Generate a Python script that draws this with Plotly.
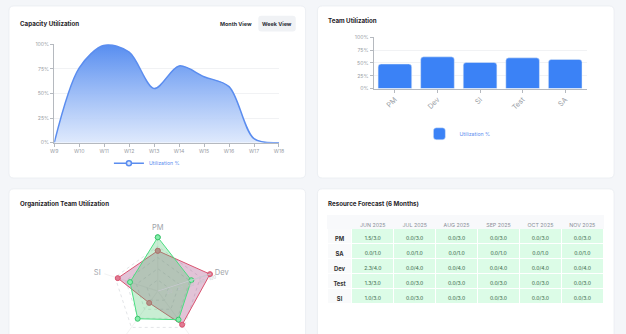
import plotly.graph_objects as go

# ---------------- data ----------------
weeks = ["W9", "W10", "W11", "W12", "W13", "W14", "W15", "W16", "W17", "W18"]
capacity_util = [0, 76, 99, 92, 55, 78, 67, 57, 4, 0]

bar_teams = ["PM", "Dev", "SI", "Test", "SA"]
bar_util = [48, 62, 51, 60, 57]

radar_axes = ["PM", "Dev", "Test", "SA", "SI"]
radar_green = [96, 63, 63, 61, 52]
radar_red = [72, 98, 74, 26, 75]

months = ["JUN 2025", "JUL 2025", "AUG 2025", "SEP 2025", "OCT 2025", "NOV 2025"]
roles = ["PM", "SA", "Dev", "Test", "SI"]
role_capacity = [3.0, 1.0, 4.0, 3.0, 3.0]
pm_alloc = [1.5, 0.0, 0.0, 0.0, 0.0, 0.0]
sa_alloc = [0.0, 0.0, 0.0, 0.0, 0.0, 0.0]
dev_alloc = [2.3, 0.0, 0.0, 0.0, 0.0, 0.0]
test_alloc = [1.3, 0.0, 0.0, 0.0, 0.0, 0.0]
si_alloc = [1.0, 0.0, 0.0, 0.0, 0.0, 0.0]

pct_ticks = [0, 25, 50, 75, 100]
pct_labels = [f"{v}%" for v in pct_ticks]

# ---------------- layout helpers ----------------
W, H = 626, 360
FONT = "Inter, Open Sans, sans-serif"


def fx(px):
    return px / W


def fy(py):
    return 1 - py / H


def rounded_rect(x0, y0, x1, y1, r):
    rx, ry = r / W, r / H
    X0, X1 = fx(x0), fx(x1)
    Y0, Y1 = fy(y0), fy(y1)  # Y0 top, Y1 bottom
    return (f"M{X0+rx},{Y0} L{X1-rx},{Y0} Q{X1},{Y0} {X1},{Y0-ry} "
            f"L{X1},{Y1+ry} Q{X1},{Y1} {X1-rx},{Y1} L{X0+rx},{Y1} "
            f"Q{X0},{Y1} {X0},{Y1+ry} L{X0},{Y0-ry} Q{X0},{Y0} {X0+rx},{Y0} Z")


fig = go.Figure()

# ---------------- line chart ----------------
fig.add_trace(go.Scatter(
    x=weeks, y=capacity_util, mode="lines", line=dict(color="#5b8def", width=1.5, shape="spline", smoothing=0.9),
    fill="tozeroy",
    fillgradient=dict(type="vertical", colorscale=[[0, "rgba(219,231,252,0.9)"], [1, "rgba(88,142,240,1)"]]),
    showlegend=False, xaxis="x", yaxis="y", hoverinfo="skip"))
fig.add_trace(go.Scatter(
    x=[None], y=[None], mode="lines+markers", name="Utilization %",
    line=dict(color="#5b8def", width=1.5),
    marker=dict(symbol="circle", size=5, color="#dbe7fc", line=dict(color="#5b8def", width=1.5)),
    legend="legend", xaxis="x", yaxis="y"))

# ---------------- bar chart ----------------
fig.add_trace(go.Bar(
    x=bar_teams, y=bar_util, name="Utilization %", marker=dict(color="#3b82f6", cornerradius=3),
    xaxis="x2", yaxis="y2", legend="legend2", hoverinfo="skip"))

# ---------------- radar ----------------
fig.add_trace(go.Scatterpolar(
    r=radar_red + radar_red[:1], theta=radar_axes + radar_axes[:1], fill="toself",
    fillcolor="rgba(150,40,110,0.28)", line=dict(color="#d9536f", width=1),
    marker=dict(size=5, color="#e07a92", line=dict(color="#d9536f", width=1)),
    mode="lines+markers", showlegend=False, subplot="polar"))
fig.add_trace(go.Scatterpolar(
    r=radar_green + radar_green[:1], theta=radar_axes + radar_axes[:1], fill="toself",
    fillcolor="rgba(74,200,110,0.30)", line=dict(color="#4ade80", width=1),
    marker=dict(size=5, color="#86efac", line=dict(color="#3fc46f", width=1)),
    mode="lines+markers", showlegend=False, subplot="polar"))

# ---------------- table ----------------
allocs = [pm_alloc, sa_alloc, dev_alloc, test_alloc, si_alloc]
cols = [roles]
for m in range(len(months)):
    cols.append([f"{allocs[i][m]:.1f}/{role_capacity[i]:.1f}" for i in range(len(roles))])
header_vals = [""] + [m.replace(" ", "\u00a0") for m in months]

fig.add_trace(go.Table(
    domain=dict(x=[fx(328), fx(609)], y=[fy(306), fy(216)]),
    columnwidth=[25] + [42.7] * 6,
    header=dict(values=header_vals, fill_color="#f8f9fb", line_color="#f8f9fb",
                font=dict(family=FONT, size=5.3, color="#8a8f98"), height=13, align="center"),
    cells=dict(values=cols,
               fill_color=[["#f9fafb"] * 5] + [["#dcfce7"] * 5] * 6,
               line=dict(color="#ffffff", width=1),
               font=dict(family=FONT, size=[5.8] + [5] * 6, color=["#333333"] + ["#4f7a5c"] * 6,
                         weight=[700] + [500] * 6),
               height=15, align="center")))

# ---------------- shapes (cards) ----------------
shapes = []
for (x0, y0, x1, y1) in [(5, 3, 306, 178), (318, 3, 619, 178), (5, 189, 306, H + 10), (318, 189, 619, H + 10)]:
    shapes.append(dict(type="path", xref="paper", yref="paper", path=rounded_rect(x0, y0, x1, y1, 5),
                       fillcolor="#ffffff", line=dict(color="#eceff3", width=1), layer="below"))
shapes.append(dict(type="path", xref="paper", yref="paper", path=rounded_rect(258, 13, 296, 29, 3),
                   fillcolor="#f0f2f5", line=dict(width=0), layer="below"))

title_font = dict(size=6.2, color="#1f2328", family=FONT)
annotations = [
    dict(text="<b>Capacity Utilization</b>", x=fx(15), y=fy(21.5), font=title_font),
    dict(text="<b>Team Utilization</b>", x=fx(328), y=fy(18), font=title_font),
    dict(text="<b>Organization Team Utilization</b>", x=fx(15), y=fy(204), font=title_font),
    dict(text="<b>Resource Forecast (6 Months)</b>", x=fx(328), y=fy(204), font=title_font),
]
for a in annotations:
    a.update(xanchor="left")
annotations += [
    dict(text="<b>Month View</b>", x=fx(235.5), y=fy(21.5), xanchor="center",
         font=dict(size=5.4, color="#2b2f36", family=FONT)),
    dict(text="<b>Week View</b>", x=fx(277), y=fy(21.5), xanchor="center",
         font=dict(size=5.4, color="#2b2f36", family=FONT)),
]
for a in annotations:
    a.update(xref="paper", yref="paper", showarrow=False, yanchor="middle", borderpad=0)

tick_font = dict(size=5.2, color="#9aa0a6", family=FONT)
axis_common = dict(showline=True, linecolor="#b5b9bf", linewidth=1, ticks="outside", ticklen=3,
                   tickcolor="#b5b9bf", zeroline=False, fixedrange=True)

fig.update_layout(
    width=W, height=H, margin=dict(l=0, r=0, t=0, b=0),
    paper_bgcolor="#f4f6f9", plot_bgcolor="rgba(0,0,0,0)",
    font=dict(family=FONT),
    shapes=shapes, annotations=annotations,
    xaxis=dict(domain=[fx(51), fx(279)], anchor="y", type="category", range=[0, 9], showgrid=False,
               tickfont=tick_font, **axis_common),
    yaxis=dict(domain=[fy(142), fy(42)], anchor="x", range=[0, 100], tickvals=pct_ticks, ticktext=pct_labels,
               showgrid=True, gridcolor="#f1f2f4", tickfont=tick_font, **axis_common),
    xaxis2=dict(domain=[fx(375), fx(591)], anchor="y2", type="category", tickangle=-45, showgrid=False,
                tickfont=dict(size=7.2, color="#9aa0a6", family=FONT), **axis_common),
    yaxis2=dict(domain=[fy(87), fy(35)], anchor="x2", range=[0, 100], tickvals=pct_ticks, ticktext=pct_labels,
                showgrid=True, gridcolor="#f1f2f4", tickfont=tick_font, **axis_common),
    bargap=0.21,
    polar=dict(
        domain=dict(x=[fx(99), fx(213)], y=[fy(350), fy(236)]),
        bgcolor="rgba(0,0,0,0)", gridshape="linear",
        angularaxis=dict(rotation=90, direction="clockwise", showgrid=True, gridcolor="#f3f3f3",
                         showline=False, ticks="outside", ticklen=2, tickcolor="rgba(0,0,0,0)",
                         tickfont=dict(size=7.5, color="#a0a4aa", family=FONT)),
        radialaxis=dict(range=[0, 100], tickvals=[20, 40, 60, 80, 100], angle=18, showline=True,
                        linecolor="#c8cbd0", gridcolor="#e3e5e8", griddash="dot", ticks="",
                        tickfont=dict(size=4.5, color="#c0c3c8", family=FONT)),
    ),
    legend=dict(x=fx(145), y=fy(163), xanchor="center", yanchor="middle", orientation="h",
                font=dict(size=5.2, color="#5b8def", family=FONT), bgcolor="rgba(0,0,0,0)", itemwidth=30),
    legend2=dict(x=fx(460), y=fy(133), xanchor="center", yanchor="middle", orientation="h",
                 font=dict(size=5.2, color="#5b8def", family=FONT), bgcolor="rgba(0,0,0,0)", itemwidth=30),
)

fig.write_html("out.html", config={"displayModeBar": False})
